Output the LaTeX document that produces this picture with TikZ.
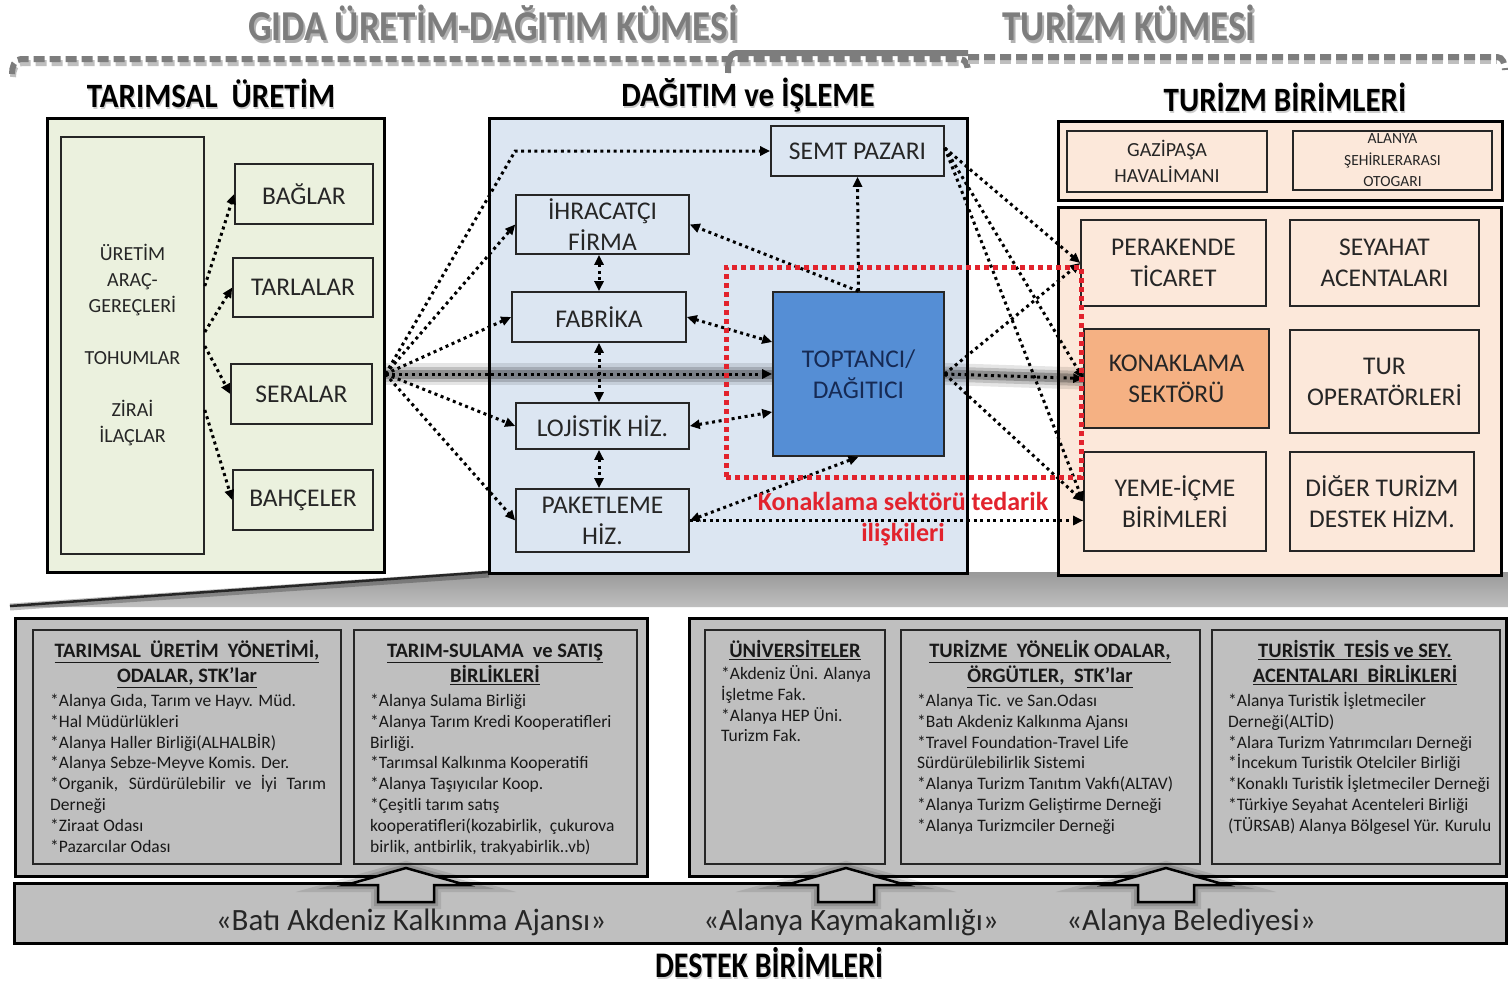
\documentclass[tikz,border=0pt]{standalone}
\usepackage{fontspec}
\setmainfont{Carlito}
\usetikzlibrary{arrows.meta,calc}

\definecolor{panelgreen}{RGB}{235,241,222}
\definecolor{panelblue}{RGB}{220,230,242}
\definecolor{panelpeach}{RGB}{252,232,218}
\definecolor{hotelorange}{RGB}{245,177,131}
\definecolor{wholesale}{RGB}{85,142,213}
\definecolor{navytext}{RGB}{22,42,84}
\definecolor{supportgray}{RGB}{191,191,191}
\definecolor{clustergray}{RGB}{125,125,125}
\definecolor{supplyred}{RGB}{226,35,45}
\definecolor{boxtext}{RGB}{38,38,38}

\begin{document}
\begin{tikzpicture}[x=1pt,y=-1pt,
  >={Triangle[length=10pt,width=9pt]},
  panel/.style={draw=black, line width=3pt, inner sep=0pt},
  unit/.style={draw=black!85, line width=1.6pt, inner sep=0pt, align=center,
    text=boxtext, font=\fontsize{25.5}{31}\selectfont},
  dotline/.style={line width=3pt, dash pattern=on 3pt off 3.6pt, black},
  glow/.style={
    preaction={draw, black, opacity=0.10, line width=22pt, solid, -},
    preaction={draw, black, opacity=0.16, line width=15pt, solid, -},
    preaction={draw, black, opacity=0.25, line width=9pt, solid, -}},
  cluster/.style={font=\fontsize{37}{40}\selectfont\bfseries, text=clustergray,
    inner sep=0pt, anchor=base},
  clustershade/.style={cluster, text=black, opacity=0.3},
  heading/.style={font=\fontsize{31}{34}\selectfont\bfseries, inner sep=0pt, anchor=base},
  headshade/.style={heading, text=black, opacity=0.2},
  boxtitle/.style={font=\fontsize{20.5}{25}\selectfont\bfseries, align=center,
    inner sep=0pt, anchor=north, text=black!90},
  boxitems/.style={font=\fontsize{17.5}{20.9}\selectfont, align=left,
    inner sep=0pt, anchor=north west, text=black!90},
  bandtext/.style={font=\fontsize{31}{34}\selectfont, inner sep=0pt, anchor=base, text=black!85},
  thinbox/.style={draw=black!85, line width=1.6pt, fill=supportgray, inner sep=0pt}
]
\useasboundingbox (0,0) rectangle (1508,985);
\fill[white] (0,0) rectangle (1508,985);

% ---------- cluster brackets and titles ----------
\begin{scope}[line width=6pt, clustergray]
  \draw[black!25, dash pattern=on 11pt off 5pt] (13,77) to[out=90,in=180] (22,63) -- (960,63);
  \draw[dash pattern=on 11pt off 5pt] (12,74) to[out=90,in=180] (21,59) -- (960,59) to[out=0,in=90] (968,72);
  \draw (728,73) to[out=90,in=180] (737,53) -- (968,53);
  \draw[black!25, dash pattern=on 11pt off 5pt] (968,61) -- (1497,61);
  \draw[dash pattern=on 11pt off 5pt] (968,57) -- (1497,57) to[out=0,in=90] (1505,70);
\end{scope}

\node[clustershade] (gidas) at (495,43) {\scalebox{1}[1.15]{GIDA ÜRETİM-DAĞITIM KÜMESİ}};
\node[cluster] (gida) at (493,40) {\scalebox{1}[1.15]{GIDA ÜRETİM-DAĞITIM KÜMESİ}};
\node[clustershade] (turs) at (1131,43) {\scalebox{1}[1.15]{TURİZM KÜMESİ}};
\node[cluster] (tur) at (1129,40) {\scalebox{1}[1.15]{TURİZM KÜMESİ}};

\node[headshade] (h1s) at (212,109) {\scalebox{1}[1.1]{TARIMSAL\ \ ÜRETİM}};
\node[heading] (h1) at (211,107) {\scalebox{1}[1.1]{TARIMSAL\ \ ÜRETİM}};
\node[headshade] (h2s) at (749,108) {\scalebox{1}[1.1]{DAĞITIM ve İŞLEME}};
\node[heading] (h2) at (748,106) {\scalebox{1}[1.1]{DAĞITIM ve İŞLEME}};
\node[headshade] (h3s) at (1286,113) {\scalebox{1}[1.1]{TURİZM BİRİMLERİ}};
\node[heading] (h3) at (1285,111) {\scalebox{1}[1.1]{TURİZM BİRİMLERİ}};

% ---------- shaded wedge between the two tiers ----------
\shade[top color=gray!80, bottom color=gray!50]
  (10,606) -- (489,572) -- (1508,572) -- (1508,607) -- (10,607) -- cycle;
\draw[black, opacity=0.25, line width=7pt] (10,607) -- (489,574);
\draw[black!85, line width=2.5pt] (10,606) -- (489,572);

% ---------- agricultural production ----------
\node[panel, fill=panelgreen, minimum width=337pt, minimum height=454pt] (tarpanel) at (215.5,345) {};
\node[unit, fill=panelgreen, minimum width=143pt, minimum height=417pt,
  font=\fontsize{20}{26}\selectfont] (girdi) at (132.5,345.5)
  {ÜRETİM\\ARAÇ-\\GEREÇLERİ\\[26pt]TOHUMLAR\\[26pt]ZİRAİ\\İLAÇLAR};
\node[unit, fill=panelgreen, minimum width=138pt, minimum height=60pt] (bag) at (304,194) {BAĞLAR};
\node[unit, fill=panelgreen, minimum width=140pt, minimum height=59pt] (tarla) at (303,287.5) {TARLALAR};
\node[unit, fill=panelgreen, minimum width=141pt, minimum height=60pt] (sera) at (301.5,394) {SERALAR};
\node[unit, fill=panelgreen, minimum width=140pt, minimum height=60pt] (bahce) at (303,500) {BAHÇELER};

% ---------- distribution and processing ----------
\node[panel, fill=panelblue, minimum width=478pt, minimum height=455pt] (dagpanel) at (728,345.5) {};
\node[unit, fill=panelblue, minimum width=173pt, minimum height=50pt] (semt) at (857.5,151) {SEMT PAZARI};
\node[unit, fill=panelblue, minimum width=173pt, minimum height=59pt] (ihr) at (602.5,224.5) {İHRACATÇI\\FİRMA};
\node[unit, fill=panelblue, minimum width=174pt, minimum height=50pt] (fab) at (599,317) {FABRİKA};
\node[unit, fill=panelblue, minimum width=173pt, minimum height=46pt] (loj) at (602.5,426) {LOJİSTİK HİZ.};
\node[unit, fill=panelblue, minimum width=173pt, minimum height=63pt] (pak) at (602.5,520.5) {PAKETLEME\\HİZ.};
\node[unit, fill=wholesale, text=navytext, minimum width=171pt, minimum height=164pt] (top) at (858.5,374) {TOPTANCI/\\DAĞITICI};

% ---------- tourism units ----------
\node[panel, fill=panelpeach, minimum width=444pt, minimum height=79pt] (ulasim) at (1280,160.5) {};
\node[unit, fill=panelpeach, minimum width=200pt, minimum height=61pt,
  font=\fontsize{20}{26}\selectfont] (gaz) at (1167,161.5) {GAZİPAŞA\\HAVALİMANI};
\node[unit, fill=panelpeach, minimum width=199pt, minimum height=59pt,
  font=\fontsize{15.5}{21.5}\selectfont] (oto) at (1392.5,160.5) {ALANYA\\ŞEHİRLERARASI\\OTOGARI};
\node[panel, fill=panelpeach, minimum width=443pt, minimum height=368pt] (turpanel) at (1279.5,391) {};
\node[unit, fill=panelpeach, minimum width=185pt, minimum height=86pt] (per) at (1173.5,263) {PERAKENDE\\TİCARET};
\node[unit, fill=panelpeach, minimum width=189pt, minimum height=86pt] (sey) at (1384.5,263) {SEYAHAT\\ACENTALARI};
\node[unit, fill=hotelorange, minimum width=185pt, minimum height=99pt] (kon) at (1176.5,378.5) {KONAKLAMA\\SEKTÖRÜ};
\node[unit, fill=panelpeach, minimum width=189pt, minimum height=103pt] (turop) at (1384.5,381.5) {TUR\\OPERATÖRLERİ};
\node[unit, fill=panelpeach, minimum width=182pt, minimum height=99pt] (yeme) at (1175,501.5) {YEME-İÇME\\BİRİMLERİ};
\node[unit, fill=panelpeach, minimum width=184pt, minimum height=99pt] (diger) at (1382,501.5) {DİĞER TURİZM\\DESTEK HİZM.};

% ---------- flows ----------
\coordinate (src) at ([yshift=-29pt]tarpanel.east);

\draw[dotline,->] ([yshift=59.5pt]girdi.east) -- (bag.west);
\draw[dotline,->] ([yshift=13.5pt]girdi.east) -- (tarla.west);
\draw[dotline,->] ([yshift=-0.5pt]girdi.east) -- (sera.west);
\draw[dotline,->] ([yshift=-64.5pt]girdi.east) -- (bahce.west);

\draw[dotline,->] (src) -- (ihr.west |- semt.west) -- (semt.west);
\draw[dotline,->] (src) -- (ihr.west);
\draw[dotline,->] (src) -- (fab.west);
\draw[dotline,->,glow] (src) -- (top.west);
\draw[dotline,->] (src) -- (loj.west);
\draw[dotline,->] (src) -- (pak.west);

\draw[dotline,<->] (fab.north |- ihr.south) -- (fab.north);
\draw[dotline,<->] (fab.south) -- (fab.south |- loj.north);
\draw[dotline,<->] (fab.south |- loj.south) -- (fab.south |- pak.north);

\draw[dotline,->] (top.north) -- (ihr.east);
\draw[dotline,->] (top.north) -- (semt.south);
\draw[dotline,<->] (fab.east) -- ([yshift=32pt]top.west);
\draw[dotline,<->] (loj.east) -- ([yshift=-38pt]top.west);
\draw[dotline,<->] (pak.east) -- (top.south);
\draw[dotline,->] (pak.east) -- (pak.east -| yeme.west);

\draw[dotline,->] ([yshift=3pt]semt.east) -- (per.west);
\draw[dotline,->] ([yshift=3pt]semt.east) -- (kon.west);
\draw[dotline,->] ([yshift=3pt]semt.east) -- (yeme.west);
\draw[dotline,->] (top.east) -- (per.west);
\draw[dotline,->,glow] (top.east) -- (kon.west);
\draw[dotline,->] (top.east) -- (yeme.west);

% supply relations of the accommodation sector
\node[draw=supplyred, line width=5pt, dash pattern=on 5pt off 4pt, inner sep=0pt,
  minimum width=355pt, minimum height=210pt] (tedarik) at (903.5,372) {};
\node[text=supplyred, font=\fontsize{26}{31}\selectfont\bfseries, align=center, inner sep=0pt]
  (tedariklabel) at (903,519) {Konaklama sektörü tedarik\\ilişkileri};

% ---------- support units ----------
\node[panel, fill=supportgray, minimum width=632pt, minimum height=258pt] (tarimdestek) at (331,747) {};
\node[panel, fill=supportgray, minimum width=817pt, minimum height=258pt] (turizmdestek) at (1097.5,747) {};

\node[thinbox, minimum width=308pt, minimum height=234pt] (b1) at (187,747) {};
\node[thinbox, minimum width=283pt, minimum height=234pt] (b2) at (495.5,747) {};
\node[thinbox, minimum width=180pt, minimum height=234pt] (b3) at (795,747) {};
\node[thinbox, minimum width=299pt, minimum height=234pt] (b4) at (1050.5,747) {};
\node[thinbox, minimum width=288pt, minimum height=234pt] (b5) at (1356,747) {};

\node[boxtitle] (b1t) at (187,640.5)
  {\rule{0pt}{17pt}\underline{TARIMSAL\ \ ÜRETİM\ \ YÖNETİMİ,}\\\underline{ODALAR, STK’lar}};
\node[boxitems] (b1i) at (50,691)
  {\rule{0pt}{15pt}{*}Alanya Gıda, Tarım ve Hayv. Müd.\\
   {*}Hal Müdürlükleri\\
   {*}Alanya Haller Birliği(ALHALBİR)\\
   {*}Alanya Sebze-Meyve Komis. Der.\\
   \makebox[276pt][s]{{*}Organik, Sürdürülebilir ve İyi Tarım}\\
   Derneği\\
   {*}Ziraat Odası\\
   {*}Pazarcılar Odası};

\node[boxtitle] (b2t) at (495,640.5)
  {\rule{0pt}{17pt}\underline{TARIM-SULAMA\ \ ve SATIŞ}\\\underline{BİRLİKLERİ}};
\node[boxitems] (b2i) at (370,691)
  {\rule{0pt}{15pt}{*}Alanya Sulama Birliği\\
   {*}Alanya Tarım Kredi Kooperatifleri\\
   Birliği.\\
   {*}Tarımsal Kalkınma Kooperatifi\\
   {*}Alanya Taşıyıcılar Koop.\\
   {*}Çeşitli tarım satış\\
   kooperatifleri(kozabirlik,\ \ çukurova\\
   birlik, antbirlik, trakyabirlik..vb)};

\node[boxtitle] (b3t) at (795,640.5) {\rule{0pt}{17pt}\underline{ÜNİVERSİTELER}};
\node[boxitems] (b3i) at (721,664)
  {\rule{0pt}{15pt}{*}Akdeniz Üni. Alanya\\
   İşletme Fak.\\
   {*}Alanya HEP Üni.\\
   Turizm Fak.};

\node[boxtitle] (b4t) at (1050,640.5)
  {\rule{0pt}{17pt}\underline{TURİZME\ \ YÖNELİK ODALAR,}\\\underline{ÖRGÜTLER,\ \ STK’lar}};
\node[boxitems] (b4i) at (917,691)
  {\rule{0pt}{15pt}{*}Alanya Tic. ve San.Odası\\
   {*}Batı Akdeniz Kalkınma Ajansı\\
   {*}Travel Foundation-Travel Life\\
   Sürdürülebilirlik Sistemi\\
   {*}Alanya Turizm Tanıtım Vakfı(ALTAV)\\
   {*}Alanya Turizm Geliştirme Derneği\\
   {*}Alanya Turizmciler Derneği};

\node[boxtitle] (b5t) at (1355,640.5)
  {\rule{0pt}{17pt}\underline{TURİSTİK\ \ TESİS ve SEY.}\\\underline{ACENTALARI\ \ BİRLİKLERİ}};
\node[boxitems] (b5i) at (1228,691)
  {\rule{0pt}{15pt}{*}Alanya Turistik İşletmeciler\\
   Derneği(ALTİD)\\
   {*}Alara Turizm Yatırımcıları Derneği\\
   {*}İncekum Turistik Otelciler Birliği\\
   {*}Konaklı Turistik İşletmeciler Derneği\\
   {*}Türkiye Seyahat Acenteleri Birliği\\
   (TÜRSAB) Alanya Bölgesel Yür. Kurulu};

% ---------- public bodies band ----------
\node[panel, fill=supportgray, minimum width=1492pt, minimum height=60pt] (band) at (760,913) {};
\node[bandtext] (bakka) at (411,930) {«Batı Akdeniz Kalkınma Ajansı»};
\node[bandtext] (kaym) at (851,930) {«Alanya Kaymakamlığı»};
\node[bandtext] (beled) at (1191,930) {«Alanya Belediyesi»};

\foreach \cx in {406,846,1166}{
  \draw[fill=supportgray, line width=2.5pt, line join=miter,
    preaction={draw, black, opacity=0.10, line width=14pt},
    preaction={draw, black, opacity=0.15, line width=8pt}]
    ({\cx-28},902) -- ({\cx-28},885) -- ({\cx-60},885) -- (\cx,868)
    -- ({\cx+60},885) -- ({\cx+28},885) -- ({\cx+28},902) -- cycle;
}

\node[headshade, font=\fontsize{30}{33}\selectfont\bfseries] (desteks) at (770,979)
  {\scalebox{1}[1.2]{DESTEK BİRİMLERİ}};
\node[heading, font=\fontsize{30}{33}\selectfont\bfseries] (destek) at (769,977)
  {\scalebox{1}[1.2]{DESTEK BİRİMLERİ}};
\end{tikzpicture}
\end{document}
